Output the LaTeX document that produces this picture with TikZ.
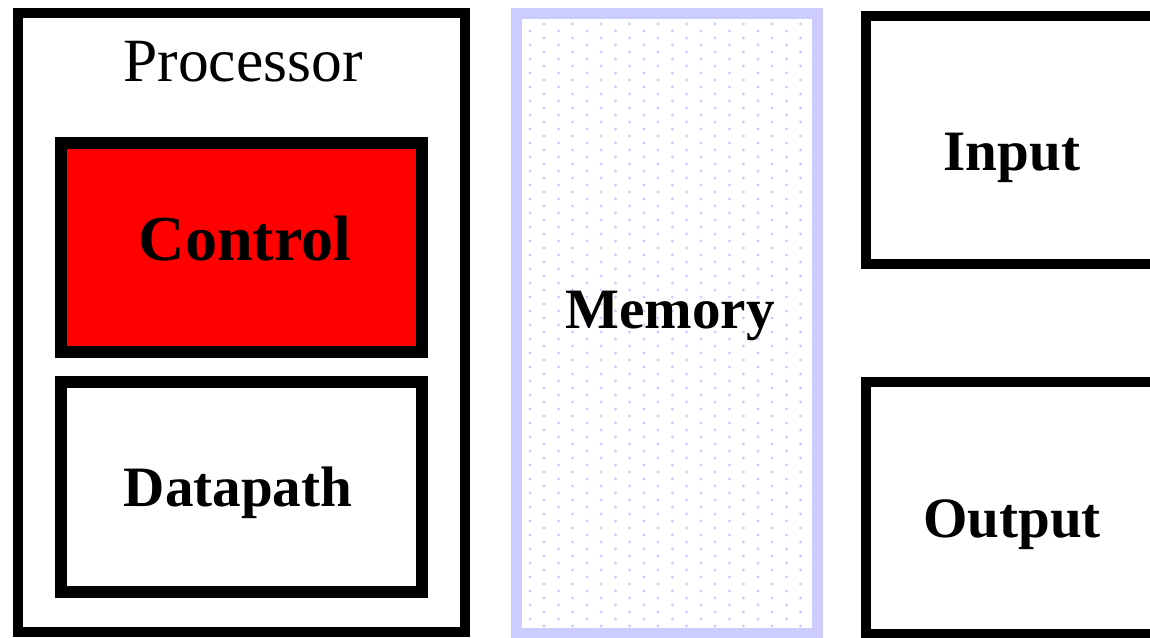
\documentclass[tikz,border=0pt]{standalone}
\usepackage{fontspec}
\setmainfont{Liberation Serif}
\usepackage{xcolor}
\usepackage{tikz}
\definecolor{memblue}{RGB}{204,204,255}

\begin{document}
\begin{tikzpicture}[
        x=0.02cm, y=-0.02cm,
        unit/.style={draw=black, line width=0.2cm},
        inner/.style={draw=black, line width=0.24cm},
        mem/.style={draw=memblue, line width=0.22cm},
        lbl/.style={anchor=base, inner sep=0pt, font=\fontsize{32.5}{36}\selectfont\bfseries},
        lblbig/.style={lbl, font=\fontsize{36.5}{40}\selectfont\bfseries},
        lblreg/.style={lbl, font=\fontsize{35}{38}\selectfont},
    ]
        \useasboundingbox (0,0) rectangle (1150,637);
        \clip (0,0) rectangle (1150,637);

        % Processor with control and datapath
        \draw[unit] (18,13) rectangle (465,632);
        \node[lblreg] (proc) at (243,81) {Processor};
        \draw[inner, fill=red] (61,143) rectangle (422,352);
        \node[lblbig] (ctrl) at (245,260) {Control};
        \draw[inner] (61,382) rectangle (422,592);
        \node[lbl] (dpath) at (238,506) {Datapath};

        % Memory, dotted fill
        \foreach \yy in {24,38,...,626}
            \foreach \xx in {544,572.5,...,810}
                \fill[memblue] (\xx,\yy) circle (0.9pt);
        \foreach \yy in {31,45,...,626}
            \foreach \xx in {530,558.5,...,810}
                \fill[memblue] (\xx,\yy) circle (0.9pt);
        \draw[mem] (516,13) rectangle (817,633);
        \node[lbl] (mem) at (670,328) {Memory};

        % Input / Output
        \draw[unit] (866,16) rectangle (1170,264);
        \node[lbl] (in) at (1012,170) {Input};
        \draw[unit] (866,382) rectangle (1170,634);
        \node[lbl] (out) at (1012,537) {Output};
    \end{tikzpicture}
\end{document}
